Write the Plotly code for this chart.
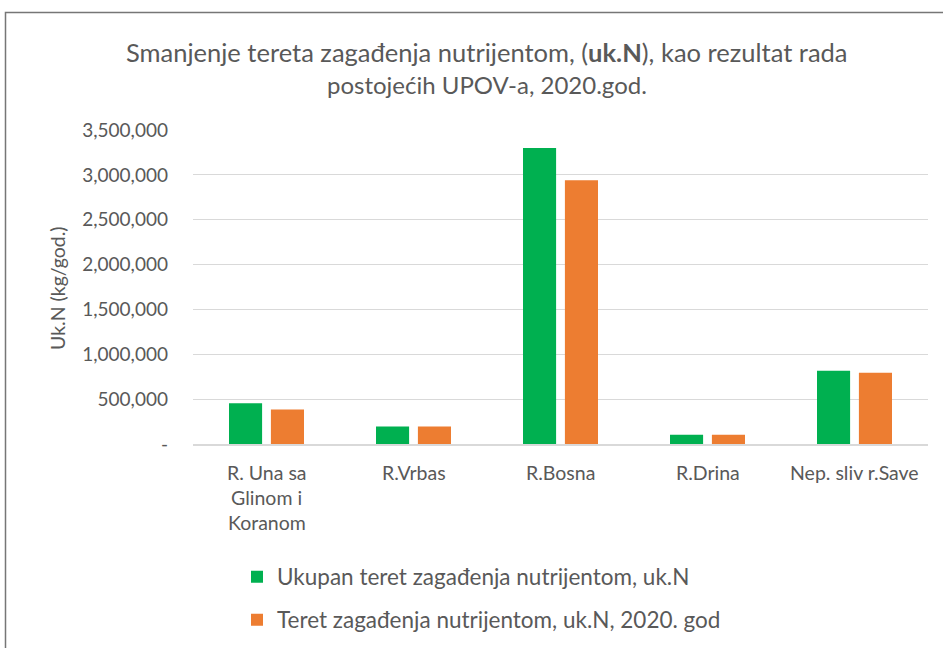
import plotly.graph_objects as go

categories = ["R. Una sa Glinom i Koranom", "R.Vrbas", "R.Bosna", "R.Drina", "Nep. sliv r.Save"]
category_lines = [["R. Una sa", "Glinom i", "Koranom"], ["R.Vrbas"], ["R.Bosna"], ["R.Drina"], ["Nep. sliv r.Save"]]
ukupan = [455000, 196000, 3300000, 104000, 817000]
teret_2020 = [384000, 195000, 2940000, 103000, 795000]
series_names = ["Ukupan teret zagađenja nutrijentom, uk.N", "Teret zagađenja nutrijentom, uk.N, 2020. god"]
y_tickvals = [0, 500000, 1000000, 1500000, 2000000, 2500000, 3000000, 3500000]
y_ticktext = ["-", "500,000", "1,000,000", "1,500,000", "2,000,000", "2,500,000", "3,000,000", "3,500,000"]
y_title = "Uk.N (kg/god.)"
title_lines = ["Smanjenje tereta zagađenja nutrijentom, (<b>uk.N</b>), kao rezultat rada", "postojećih UPOV-a, 2020.god."]

FONT = "Lato"
TXT = "#595959"
W, H = 943, 648
L, R, T, B = 193, 15, 130, 204
pw, ph = W - L - R, H - T - B

def px_x(p):
    return (p - L) / pw

def px_y(p):
    return (H - B - p) / ph

fig = go.Figure()
fig.add_trace(go.Bar(x=categories, y=ukupan, name=series_names[0], marker_color="#00b050",
                     marker_line_width=0, legend="legend"))
fig.add_trace(go.Bar(x=categories, y=teret_2020, name=series_names[1], marker_color="#ed7d31",
                     marker_line_width=0, legend="legend2"))

annotations = []
title_sizes = [25.5, 24]
for i, line in enumerate(title_lines):
    annotations.append(dict(text=line, xref="paper", yref="paper", x=px_x(487), y=px_y(52 + 33 * i),
                            xanchor="center", yanchor="middle", showarrow=False,
                            font=dict(family=FONT, size=title_sizes[i], color=TXT)))
for cat, lines in zip(categories, category_lines):
    for j, ln in enumerate(lines):
        annotations.append(dict(text=ln, xref="x", yref="paper", x=cat, y=px_y(472 + 25 * j),
                                xanchor="center", yanchor="middle", showarrow=False,
                                font=dict(family=FONT, size=19.5, color=TXT)))
annotations.append(dict(text=y_title, xref="paper", yref="paper", x=px_x(57), y=px_y(288),
                        xanchor="center", yanchor="middle", textangle=-90, showarrow=False,
                        font=dict(family=FONT, size=19.5, color=TXT)))

fig.update_layout(
    width=W, height=H,
    margin=dict(l=L, r=R, t=T, b=B, autoexpand=False),
    paper_bgcolor="white", plot_bgcolor="white",
    barmode="group", bargap=0.43, bargroupgap=0.21,
    font=dict(family=FONT, color=TXT),
    xaxis=dict(showticklabels=False, showgrid=False, showline=True, linecolor="#d9d9d9", linewidth=1.5,
               ticks=""),
    yaxis=dict(range=[0, 3500000], tickvals=y_tickvals, ticktext=y_ticktext,
               gridcolor="#d9d9d9", gridwidth=1, zeroline=False, showline=False,
               tickfont=dict(family=FONT, size=19, color=TXT), ticklabelstandoff=24),
    legend=dict(x=px_x(237), y=px_y(577), xanchor="left", yanchor="middle",
                font=dict(family=FONT, size=22.5, color=TXT), bgcolor="rgba(0,0,0,0)"),
    legend2=dict(x=px_x(237), y=px_y(620), xanchor="left", yanchor="middle",
                 font=dict(family=FONT, size=22.5, color=TXT), bgcolor="rgba(0,0,0,0)"),
    showlegend=True,
    annotations=annotations,
    shapes=[dict(type="rect", xref="paper", yref="paper", x0=px_x(5.5), x1=px_x(1000),
                 y0=px_y(700), y1=px_y(12.5), line=dict(color="#767676", width=1.5),
                 fillcolor="rgba(0,0,0,0)", layer="below")],
)

fig.write_html("out.html", config={"displayModeBar": False},
               post_script="document.body.style.margin='0px';")
